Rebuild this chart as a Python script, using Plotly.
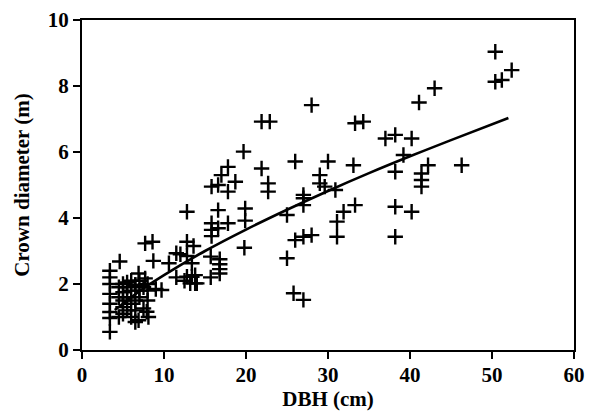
import plotly.graph_objects as go

dbh = [
    3.4, 3.4, 3.4, 3.4, 3.4, 3.4, 3.4, 3.4, 4.6,
    4.5, 4.5, 4.5, 5.0, 5.0, 5.0, 5.0, 5.0, 5.5, 5.5, 5.5, 5.5,
    6.0, 6.0, 6.0, 6.0, 6.5, 6.5, 6.5, 6.5, 7.0, 7.0, 7.0, 7.5, 7.5,
    8.0, 8.0, 8.0, 9.0,
    7.7, 8.6, 8.7, 10.6, 11.5, 12.8, 13.6, 12.0, 12.8, 13.4,
    11.5, 12.5, 13.4, 13.2, 14.0, 12.8, 13.8, 13.8,
    9.7, 6.9, 7.7, 6.5, 8.1, 7.9, 6.9,
    15.7, 16.8, 16.8, 16.8, 16.8, 15.7,
    12.8, 16.6, 19.9, 19.9, 17.8, 15.8, 15.8, 15.8, 16.6, 19.8,
    15.8, 16.6, 17.8, 18.7, 17.0, 17.8, 19.7, 21.9, 22.7, 22.7, 21.9, 22.9,
    28.0, 33.3, 34.3, 37.0, 38.2, 40.2, 41.1, 43.0,
    26.0, 30.0, 33.1, 39.2, 38.2, 41.4, 41.4, 41.4, 42.2, 46.3,
    29.0, 29.0, 29.6, 30.9, 27.0, 27.0, 27.0, 25.0, 33.3, 31.9, 31.1, 31.1,
    38.2, 40.2, 38.2, 26.0, 27.0, 28.0, 25.0, 25.8, 27.0,
    50.4, 50.4, 51.2, 52.4,
]
crown = [
    0.55, 0.97, 1.15, 1.4, 1.7, 2.0, 2.2, 2.4, 2.68,
    1.0, 1.6, 1.9, 1.3, 1.5, 1.75, 2.0, 1.1, 1.2, 1.6, 1.9, 2.05,
    1.0, 1.4, 1.8, 2.1, 1.2, 1.5, 1.97, 0.85, 1.6, 1.8, 2.1, 1.26, 1.9,
    1.5, 1.8, 2.0, 1.85,
    3.23, 3.28, 2.7, 2.63, 2.93, 3.28, 3.15, 2.9, 2.85, 2.63,
    2.2, 2.1, 2.22, 2.02, 2.02, 2.22, 2.27, 2.02,
    1.82, 2.32, 2.17, 1.97, 1.0, 1.16, 0.9,
    2.83, 2.75, 2.6, 2.45, 2.32, 2.2,
    4.19, 4.24, 4.29, 3.92, 3.84, 3.84, 3.64, 3.45, 3.69, 3.1,
    4.95, 5.0, 4.8, 5.1, 5.3, 5.55, 6.01, 5.5, 5.05, 4.8, 6.92, 6.92,
    7.42, 6.87, 6.92, 6.41, 6.52, 6.41, 7.5, 7.93,
    5.71, 5.71, 5.6, 5.91, 5.4, 5.35, 5.15, 4.95, 5.6, 5.6,
    5.3, 5.05, 4.95, 4.85, 4.7, 4.6, 4.39, 4.09, 4.39, 4.19, 3.89, 3.43,
    4.34, 4.19, 3.43, 3.33, 3.43, 3.48, 2.78, 1.72, 1.52,
    9.04, 8.13, 8.18, 8.48,
]

# fitted curve
fit_dbh = [4, 6, 8, 10, 15, 20, 25, 30, 35, 40, 45, 52]
fit_crown = [1.21, 1.60, 1.95, 2.27, 3.00, 3.65, 4.25, 4.82, 5.36, 5.87, 6.36, 7.03]

x_ticks = [0, 10, 20, 30, 40, 50, 60]
y_ticks = [0, 2, 4, 6, 8, 10]

fig = go.Figure()
fig.add_trace(go.Scatter(
    x=dbh, y=crown, mode="markers",
    marker=dict(symbol="cross-thin", size=11, color="black",
                line=dict(color="black", width=2.4)),
    showlegend=False, cliponaxis=False,
))
fig.add_trace(go.Scatter(
    x=fit_dbh, y=fit_crown, mode="lines",
    line=dict(color="black", width=2.6, shape="spline"),
    showlegend=False,
))

font_serif = "Liberation Serif"
tick_font = dict(family=font_serif, size=21, color="black", weight="bold")
title_font = dict(family=font_serif, size=21, color="black", weight="bold")
axis_common = dict(
    showgrid=False, zeroline=False, showline=True, linecolor="black",
    linewidth=2, mirror=True, ticks="outside", ticklen=7, tickwidth=2,
    tickcolor="black", tickfont=tick_font, automargin=False,
)
fig.update_xaxes(range=[0, 60], tickvals=x_ticks, ticklabelstandoff=-2,
                 title=dict(text="DBH (cm)", font=title_font, standoff=2),
                 **axis_common)
fig.update_yaxes(range=[0, 10], tickvals=y_ticks, ticklabelstandoff=0,
                 title=dict(text="Crown diameter (m)", font=title_font, standoff=12),
                 **axis_common)
# page body adds an 8px offset, so margins are shifted to keep the plot area in place
fig.update_layout(
    width=596, height=415,
    margin=dict(l=74, r=30, t=12, b=73),
    plot_bgcolor="white", paper_bgcolor="white",
)
fig.write_html("out.html")
